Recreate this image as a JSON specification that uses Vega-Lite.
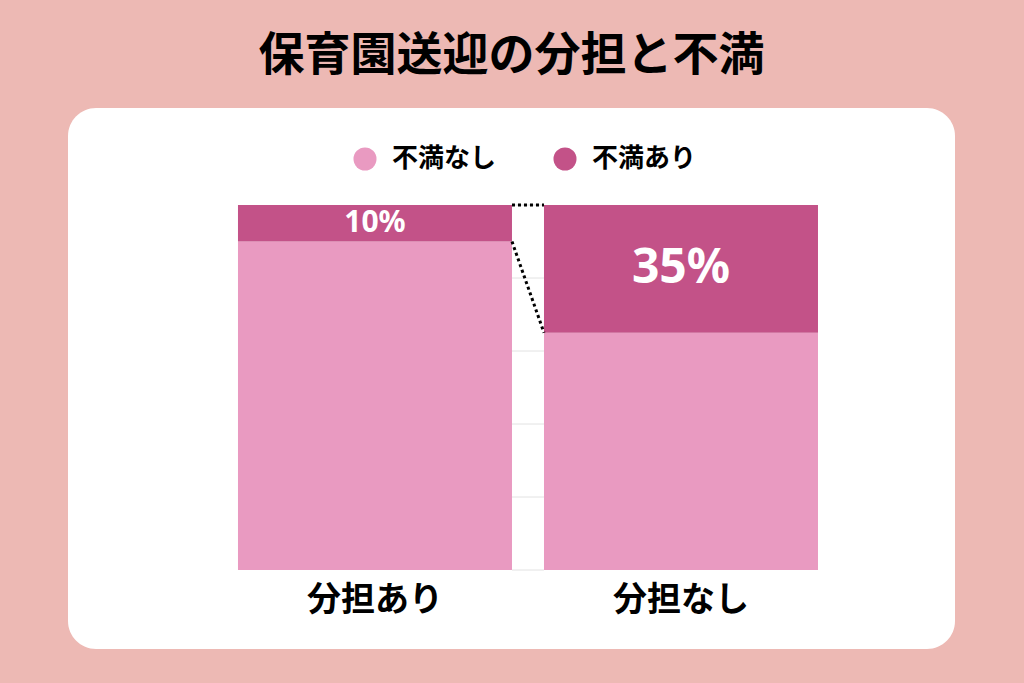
{
  "$schema": "https://vega.github.io/schema/vega-lite/v6.json",
  "description": "保育園送迎の分担と不満",
  "autosize": "none",
  "width": 887,
  "height": 541,
  "padding": {"left": 68, "top": 108, "right": 69, "bottom": 34},
  "background": "#EDB9B4",
  "title": {
    "text": "保育園送迎の分担と不満",
    "font": "Noto Sans CJK JP",
    "fontSize": 46,
    "fontWeight": "bold",
    "color": "#000000",
    "anchor": "middle",
    "frame": "group",
    "offset": 28
  },
  "datasets": {
    "shares": [
      {"group": "分担あり", "status": "不満なし", "value": 0.9},
      {"group": "分担あり", "status": "不満あり", "value": 0.1},
      {"group": "分担なし", "status": "不満なし", "value": 0.65},
      {"group": "分担なし", "status": "不満あり", "value": 0.35}
    ],
    "grid": [
      {"tick": 0}, {"tick": 0.2}, {"tick": 0.4}, {"tick": 0.6}, {"tick": 0.8}, {"tick": 1}
    ],
    "links": [
      {"left": 1, "right": 1},
      {"left": 0.9, "right": 0.65}
    ]
  },
  "layer": [
    {
      "data": {"name": "grid"},
      "mark": {"type": "rule", "color": "#E2E2E2", "strokeWidth": 1},
      "encoding": {
        "x": {"datum": "分担あり", "type": "nominal", "bandPosition": 1},
        "x2": {"datum": "分担なし", "bandPosition": 0},
        "y": {
          "field": "tick",
          "type": "quantitative",
          "scale": {"domain": [0, 1], "range": [462, 97], "nice": false},
          "axis": null
        }
      }
    },
    {
      "data": {"name": "shares"},
      "mark": {"type": "bar"},
      "encoding": {
        "x": {
          "field": "group",
          "type": "nominal",
          "sort": ["分担あり", "分担なし"],
          "scale": {"paddingInner": 0.1046, "paddingOuter": 0.5016, "align": 0.5537},
          "axis": {
            "title": null,
            "domain": false,
            "ticks": false,
            "grid": false,
            "bandPosition": 0.5,
            "offset": -80,
            "labelAlign": "center",
            "labelBaseline": "middle",
            "labelPadding": 31,
            "labelFont": "Noto Sans CJK JP",
            "labelFontSize": 34,
            "labelFontWeight": "bold",
            "labelColor": "#000000",
            "labelAngle": 0
          }
        },
        "y": {
          "field": "value",
          "type": "quantitative",
          "stack": "zero",
          "scale": {"domain": [0, 1], "range": [462, 97], "nice": false},
          "axis": null
        },
        "color": {
          "field": "status",
          "type": "nominal",
          "scale": {"domain": ["不満なし", "不満あり"], "range": ["#E99AC1", "#C35288"]},
          "legend": {
            "title": null,
            "orient": "none",
            "direction": "horizontal",
            "legendX": 284,
            "legendY": 38,
            "symbolType": "circle",
            "symbolSize": 530,
            "symbolStrokeWidth": 0,
            "labelFont": "Noto Sans CJK JP",
            "labelFontSize": 26,
            "labelFontWeight": "bold",
            "labelColor": "#000000",
            "labelOffset": 14,
            "columnPadding": 55
          }
        },
        "order": {"field": "status", "sort": "descending"}
      }
    },
    {
      "data": {"name": "links"},
      "mark": {"type": "rule", "color": "#000000", "strokeWidth": 3, "strokeDash": [3, 3]},
      "encoding": {
        "x": {"datum": "分担あり", "type": "nominal", "bandPosition": 1},
        "x2": {"datum": "分担なし", "bandPosition": 0},
        "y": {
          "field": "left",
          "type": "quantitative",
          "scale": {"domain": [0, 1], "range": [462, 97], "nice": false},
          "axis": null
        },
        "y2": {"field": "right"}
      }
    },
    {
      "data": {"name": "shares"},
      "transform": [{"filter": "datum.status === '不満あり'"}],
      "mark": {
        "type": "text",
        "color": "#FFFFFF",
        "font": "Noto Sans",
        "fontWeight": "bold",
        "baseline": "middle",
        "align": "center"
      },
      "encoding": {
        "x": {"field": "group", "type": "nominal"},
        "y": {
          "field": "value",
          "type": "quantitative",
          "scale": {"domain": [0, 2], "range": [97, 462], "nice": false, "zero": false},
          "axis": null
        },
        "text": {"field": "value", "type": "quantitative", "format": ".0%"},
        "size": {
          "field": "value",
          "type": "quantitative",
          "scale": {"domain": [0.1, 0.35], "range": [30, 48]},
          "legend": null
        }
      }
    }
  ],
  "resolve": {"scale": {"y": "independent"}},
  "config": {
    "view": {"fill": "#FFFFFF", "stroke": null, "cornerRadius": 28}
  }
}
